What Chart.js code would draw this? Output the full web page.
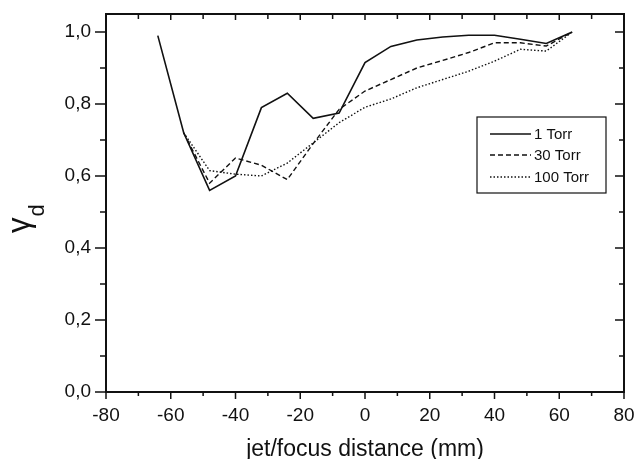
<!DOCTYPE html>
<html>
<head>
<meta charset="utf-8">
<script src="https://cdn.jsdelivr.net/npm/chart.js@4.4.1/dist/chart.umd.min.js"></script>
<style>
  html, body { margin: 0; padding: 0; background: #fff; }
  #wrap { width: 637px; height: 459px; position: relative; }
</style>
</head>
<body>
<div id="wrap"><canvas id="myChart"></canvas></div>
<script>
(function () {
    'use strict';

    // ── Data ───────────────────────────────────────────────────────────────────
    const distances = [-64, -56, -48, -40, -32, -24, -16, -8, 0, 8, 16, 24, 32, 40, 48, 56, 64];
    const torr1   = [0.99, 0.72, 0.56, 0.60, 0.79, 0.83, 0.76, 0.775, 0.915, 0.96, 0.978, 0.986, 0.991, 0.991, 0.98, 0.968, 1.0];
    const torr30  = [null, 0.72, 0.58, 0.65, 0.63, 0.59, 0.69, 0.785, 0.836, 0.868, 0.90, 0.921, 0.943, 0.97, 0.97, 0.961, 1.0];
    const torr100 = [null, 0.72, 0.615, 0.605, 0.60, 0.636, 0.692, 0.748, 0.791, 0.814, 0.845, 0.868, 0.891, 0.919, 0.952, 0.947, 1.0];
    const seriesLabels = ['1 Torr', '30 Torr', '100 Torr'];
    const xTicks = [-80, -60, -40, -20, 0, 20, 40, 60, 80];
    const yTicks = [0, 0.2, 0.4, 0.6, 0.8, 1.0];

    const FONT = "'Liberation Sans', Arial, sans-serif";
    const INK  = '#111';

    const toPoints = (ys) => distances.map((x, i) => ({ x: x, y: ys[i] }));

    // ── Frame, ticks, axis titles and legend ───────────────────────────────────
    const framePlugin = {
        id: 'frame',
        afterDraw(chart) {
            const { ctx, chartArea, scales } = chart;
            const { left, right, top, bottom } = chartArea;
            const xs = scales.x, ys = scales.y;

            ctx.save();
            ctx.strokeStyle = INK;

            // box
            ctx.lineWidth = 2;
            ctx.strokeRect(left, top, right - left, bottom - top);

            // x ticks: out at bottom, in at top
            ctx.lineWidth = 1.5;
            ctx.beginPath();
            for (let v = -80; v <= 80; v += 10) {
                const px = xs.getPixelForValue(v);
                const major = v % 20 === 0;
                ctx.moveTo(px, bottom); ctx.lineTo(px, bottom + (major ? 7 : 4));
                ctx.moveTo(px, top);    ctx.lineTo(px, top + (major ? 6 : 5));
            }
            // y ticks: out at left, in at right
            for (let k = 0; k <= 10; k++) {
                const py = ys.getPixelForValue(k / 10);
                const major = k % 2 === 0;
                ctx.moveTo(left, py);  ctx.lineTo(left - (major ? 11 : 6), py);
                ctx.moveTo(right, py); ctx.lineTo(right - (major ? 9 : 5), py);
            }
            ctx.stroke();

            // x title
            ctx.fillStyle = INK;
            ctx.font = '23px ' + FONT;
            ctx.textAlign = 'center';
            ctx.textBaseline = 'alphabetic';
            ctx.fillText('jet/focus distance (mm)', (left + right) / 2, 456);

            // y title: gamma with subscript d, rotated
            ctx.save();
            ctx.translate(29, 233);
            ctx.rotate(-Math.PI / 2);
            ctx.textAlign = 'left';
            ctx.font = '31px ' + FONT;
            ctx.fillText('γ', 0, 0);
            const gw = ctx.measureText('γ').width;
            ctx.font = '22px ' + FONT;
            ctx.fillText('d', gw + 1, 15);
            ctx.restore();

            // legend box
            const bx = 477, by = 117, bw = 129, bh = 76;
            ctx.lineWidth = 1.2;
            ctx.fillStyle = '#fff';
            ctx.fillRect(bx, by, bw, bh);
            ctx.strokeRect(bx, by, bw, bh);
            const rowsY = [134, 155, 177];
            chart.data.datasets.forEach((ds, i) => {
                ctx.strokeStyle = ds.borderColor;
                ctx.lineWidth = ds.borderWidth;
                ctx.setLineDash(ds.borderDash || []);
                ctx.beginPath();
                ctx.moveTo(490, rowsY[i]);
                ctx.lineTo(531, rowsY[i]);
                ctx.stroke();
                ctx.setLineDash([]);
                ctx.fillStyle = INK;
                ctx.font = '15px ' + FONT;
                ctx.textAlign = 'left';
                ctx.textBaseline = 'middle';
                ctx.fillText(ds.label, 534, rowsY[i] + 1);
            });

            ctx.restore();
        }
    };

    // ── Chart ──────────────────────────────────────────────────────────────────
    const chartCtx = document.getElementById('myChart').getContext('2d');
    new Chart(chartCtx, {
        type: 'line',
        data: {
            datasets: [
                { label: seriesLabels[0], data: toPoints(torr1),   borderColor: INK, borderWidth: 1.6, borderDash: [] },
                { label: seriesLabels[1], data: toPoints(torr30),  borderColor: INK, borderWidth: 1.4, borderDash: [5, 3] },
                { label: seriesLabels[2], data: toPoints(torr100), borderColor: INK, borderWidth: 1.4, borderDash: [1.5, 2] }
            ]
        },
        options: {
            responsive: true,
            maintainAspectRatio: false,
            animation: false,
            spanGaps: false,
            elements: { point: { radius: 0 }, line: { tension: 0, fill: false } },
            layout: { padding: { top: 14, right: 13, bottom: 0, left: 0 } },
            plugins: { legend: { display: false }, tooltip: { enabled: false } },
            scales: {
                x: {
                    type: 'linear',
                    min: -80, max: 80,
                    afterBuildTicks: (s) => { s.ticks = xTicks.map(v => ({ value: v })); },
                    afterFit: (s) => { s.height = 67; s.paddingLeft = 0; s.paddingRight = 0; },
                    grid: { display: false },
                    border: { display: false },
                    ticks: {
                        color: INK,
                        font: { family: FONT, size: 19 },
                        padding: 4,
                        maxRotation: 0,
                        callback: (v) => String(v)
                    }
                },
                y: {
                    type: 'linear',
                    min: 0, max: 1.05,
                    afterBuildTicks: (s) => { s.ticks = yTicks.map(v => ({ value: v })); },
                    afterFit: (s) => { s.width = 106; s.paddingTop = 0; s.paddingBottom = 0; },
                    grid: { display: false },
                    border: { display: false },
                    ticks: {
                        color: INK,
                        font: { family: FONT, size: 19 },
                        padding: 7,
                        callback: (v) => v.toFixed(1).replace('.', ',')
                    }
                }
            }
        },
        plugins: [framePlugin]
    });
}());
</script>
</body>
</html>
